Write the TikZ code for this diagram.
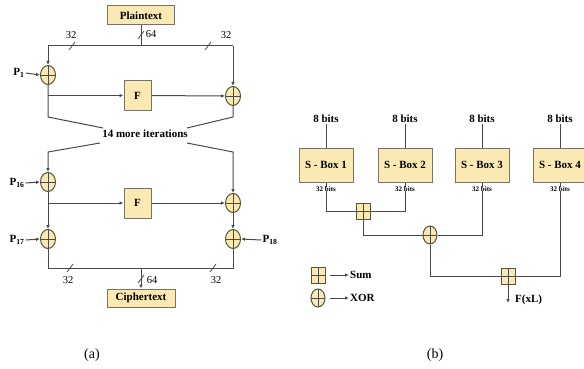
\documentclass[tikz,border=0pt]{standalone}
\usepackage{fontspec}
\setmainfont{Liberation Serif}
\usetikzlibrary{arrows.meta,shapes.geometric,calc}
\definecolor{boxfill}{HTML}{FBE9B4}
\definecolor{boxdraw}{HTML}{7A7268}
\definecolor{ln}{HTML}{4A4A4A}
\tikzset{
  wire/.style={draw=ln, line width=1pt},
  arr/.style={wire, -{Latex[length=4pt,width=3.5pt]}},
  ybox/.style={draw=boxdraw, line width=1pt, fill=boxfill, inner sep=0pt,
     font=\bfseries\fontsize{11}{12}\selectfont},
  xorn/.style={ellipse, draw=ln!80!olive, line width=1pt, fill=boxfill, minimum width=15pt, minimum height=19pt, inner sep=0pt,
     path picture={\draw[ln, line width=0.8pt] (path picture bounding box.north) -- (path picture bounding box.south)
       (path picture bounding box.west) -- (path picture bounding box.east);}},
  sumn/.style={rectangle, draw=ln!80!olive, line width=1pt, fill=boxfill, minimum width=14pt, minimum height=16pt, inner sep=0pt,
     path picture={\draw[ln, line width=0.8pt] (path picture bounding box.north) -- (path picture bounding box.south)
       (path picture bounding box.west) -- (path picture bounding box.east);}},
  lbl/.style={font=\bfseries\fontsize{11}{12}\selectfont, inner sep=1pt},
  num/.style={font=\fontsize{10.5}{12}\selectfont, inner sep=1pt},
  tiny/.style={font=\bfseries\fontsize{7}{8}\selectfont, inner sep=0pt},
  slash/.style={draw=ln, line width=0.8pt},
}
\begin{document}
\begin{tikzpicture}[x=1pt,y=-1pt]
\useasboundingbox[fill=white] (0,0) rectangle (584,369);
% ---------------- (a) ----------------
\node[ybox, minimum width=67pt, minimum height=19pt] (plain) at (141,15.5) {Plaintext};
\coordinate (tl) at (48,46);
\coordinate (tm) at (141,46);
\coordinate (tr) at (233,46);
\node[xorn] (x1) at (48,75) {};
\node[xorn] (x2) at (233,96) {};
\node[ybox, minimum width=27pt, minimum height=29pt] (F1) at (137.5,95.5) {F};
\draw[wire] (plain) -- (tm);
\draw[wire] (tl) -- (tr);
\draw[arr] (tl) -- (x1);
\draw[arr] (tr) -- (x2);
\node[lbl] (p1) at (19,73) {P\textsubscript{1}};
\draw[arr] (p1.east) -- (x1.west);
\coordinate (a1) at (48,117);
\coordinate (a2) at (103,128);
\coordinate (b1) at (233,117);
\coordinate (b2) at (187,128);
\draw[wire] (x1) -- (a1) -- (a2);
\draw[arr] (x1.south |- F1) -- (F1);
\draw[arr] (F1) -- (x2);
\draw[wire] (x2) -- (b1) -- (b2);
\node[lbl] (iter) at (145,134) {14 more iterations};
\coordinate (c1) at (100,143);
\coordinate (c2) at (48,152);
\coordinate (d1) at (187,143);
\coordinate (d2) at (233,152);
\node[xorn] (x16) at (48,182) {};
\node[xorn] (x2b) at (233,203) {};
\node[xorn] (x17) at (48,239) {};
\node[xorn] (x18) at (233,239) {};
\node[ybox, minimum width=27pt, minimum height=30pt] (F2) at (137.5,203) {F};
\draw[arr] (c1) -- (c2) -- (x16);
\draw[arr] (d1) -- (d2) -- (x2b);
\draw[arr] (x16) -- (x17);
\draw[arr] (x16.south |- F2) -- (F2);
\draw[arr] (F2) -- (x2b);
\draw[arr] (x2b) -- (x18);
\node[lbl] (p16) at (17,183) {P\textsubscript{16}};
\node[lbl] (p17) at (17,240) {P\textsubscript{17}};
\node[lbl] (p18) at (270,240) {P\textsubscript{18}};
\draw[arr] (p16.east) -- (x16.west);
\draw[arr] (p17.east) -- (x17.west);
\draw[arr] (p18.west) -- (x18.east);
\coordinate (bl) at (48,268);
\coordinate (bm) at (141,268);
\coordinate (br) at (233,268);
\node[ybox, minimum width=68pt, minimum height=18pt] (cipher) at (141,298) {Ciphertext};
\draw[wire] (x17) -- (bl) -- (br) -- (x18);
\draw[arr] (bm) -- (cipher);
% slashes and widths
\draw[slash] (69,50) -- (75,42);
\draw[slash] (138,39) -- (144,31);
\draw[slash] (205,50) -- (211,42);
\node[num] at (71,35) {32};
\node[num] at (151,34) {64};
\node[num] at (226,35) {32};
\draw[slash] (67,272) -- (73,264);
\draw[slash] (138,283) -- (144,275);
\draw[slash] (210,272) -- (216,264);
\node[num] at (68,280) {32};
\node[num] at (152,280) {64};
\node[num] at (216,280) {32};
% ---------------- (b) ----------------
\foreach \i/\x in {1/326, 2/405, 3/482, 4/560}{
  \node[ybox, minimum width=54pt, minimum height=34pt] (s\i) at (\x,165) {S - Box \i};
  \node[lbl] (e\i) at (\x,119) {8 bits};
  \draw[wire] (e\i.south) -- (s\i.north);
}
\node[sumn] (sum1) at (363,211) {};
\node[xorn, minimum width=14pt, minimum height=18pt] (xor1) at (430,235) {};
\node[sumn] (sum2) at (508,276) {};
\draw[wire] (s1.south) |- (sum1);
\draw[wire] (s2.south) |- (sum1);
\draw[wire] (sum1) |- (xor1);
\draw[wire] (s3.south) |- (xor1);
\draw[wire] (xor1) |- (sum2);
\draw[wire] (s4.south) |- (sum2);
\foreach \i/\x in {1/326, 2/405, 3/482, 4/560}{
  \node[tiny, fill=white] at (\x,189) {32 bits};
}
\coordinate (out) at (508,303);
\draw[arr] (sum2) -- (out);
\node[lbl, anchor=west] (fx) at (514,300) {F(xL)};
% legend
\node[sumn] (lsum) at (318,275) {};
\node[xorn, minimum width=14pt, minimum height=18pt] (lxor) at (318,298) {};
\node[lbl, anchor=west] (tsum) at (349,275) {Sum};
\node[lbl, anchor=west] (txor) at (349,298) {XOR};
\draw[arr] (lsum.east) ++(4,0) -- (tsum.west);
\draw[arr] (lxor.east) ++(4,0) -- (txor.west);
% captions
\node[font=\fontsize{14}{16}\selectfont] (ca) at (92,355) {(a)};
\node[font=\fontsize{14}{16}\selectfont] (cb) at (435,355) {(b)};
\end{tikzpicture}
\end{document}
